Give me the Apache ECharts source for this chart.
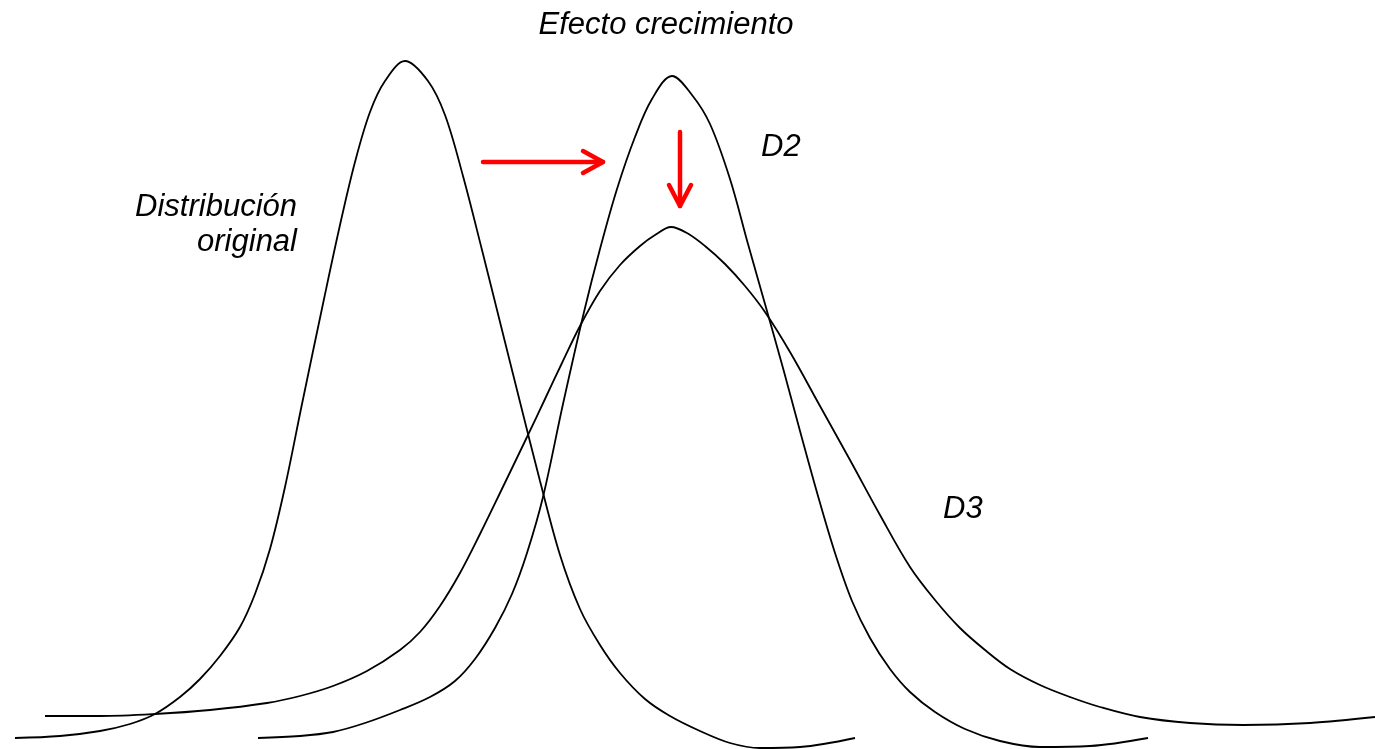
<!DOCTYPE html>
<html>
<head>
<meta charset="utf-8">
<style>
html,body{margin:0;padding:0;background:#fff;}
#chart{width:1375px;height:749px;}
</style>
<script src="https://cdn.jsdelivr.net/npm/echarts@6/dist/echarts.min.js"></script>
</head>
<body>
<div id="chart"></div>
<script>
// Distribución original (x = income position, y = density)
const origX = [15,60,100,130,155,180,200,220,240,255,270,285,302,324,340,355,370,385,405,428,445,463,482,500,520,540,560,580,600,620,645,670,700,730,760,800,855];
const origY = [11,13,18,25,35,52,70,93,122,155,200,262,345,450,524,587,637,668,688,668,634,573,499,427,347,268,194,140,104,76,50,33,18,6,1,2,11];
// D2 (efecto crecimiento)
const d2X = [258,300,333,365,400,430,455,475,495,512,527,543,563,584,600,617,635,652,672,692,710,730,748,765,783,800,818,835,852,870,890,910,935,965,1000,1040,1090,1148];
const d2Y = [11,13,17,26,39,52,68,90,121,155,196,252,345,437,500,560,612,650,673,654,625,570,505,445,381,318,253,196,148,111,80,57,37,20,8,2,3,11];
// D3 (mayor dispersión)
const d3X = [45,100,155,210,267,300,333,367,400,420,440,460,480,500,527,545,562,580,600,620,640,655,671,687,705,725,745,765,790,820,850,880,910,935,960,985,1010,1040,1070,1100,1140,1190,1243,1310,1375];
const d3Y = [33,33,35,39,46,53,63,78,99,117,143,176,215,256,312,350,386,423,458,484,503,514,522,516,503,485,463,437,397,343,289,234,182,149,121,99,80,64,52,42,32,26,24,26,32];
// Arrows (annotation paths in the same data space)
const arrowRightShaft = [[483,587],[603,587]];
const arrowRightHead  = [[583,598],[603,587],[583,576]];
const arrowDownShaft  = [[680,617],[680,543]];
const arrowDownHead   = [[669,564],[680,543],[691,564]];
// Labels
const labelTitle = 'Efecto crecimiento';
const labelOrig = ['Distribución', 'original'];
const labelD2 = 'D2';
const labelD3 = 'D3';

const zip = (xs, ys) => xs.map((x, i) => [x, ys[i]]);
const chart = echarts.init(document.getElementById('chart'), null, {renderer: 'canvas'});
const font = 'italic 31px "Liberation Sans", Arial, sans-serif';

function curve(name, data) {
  return {
    name, type: 'line', data, smooth: 0.35, symbol: 'none', silent: true,
    lineStyle: {color: '#000', width: 1.8}
  };
}
function arrow(data) {
  return {
    type: 'line', data, smooth: false, symbol: 'none', silent: true,
    lineStyle: {color: '#ff0000', width: 4.5, cap: 'round', join: 'round'}
  };
}

chart.setOption({
  animation: false,
  backgroundColor: '#ffffff',
  grid: {left: 0, right: 0, top: 0, bottom: 0},
  xAxis: {type: 'value', min: 0, max: 1375, show: false},
  yAxis: {type: 'value', min: 0, max: 749, show: false},
  series: [
    curve('Distribución original', zip(origX, origY)),
    curve('D2', zip(d2X, d2Y)),
    curve('D3', zip(d3X, d3Y)),
    arrow(arrowRightShaft), arrow(arrowRightHead),
    arrow(arrowDownShaft), arrow(arrowDownHead)
  ],
  graphic: [
    {type: 'text', x: 666, y: 25, style: {text: labelTitle, font, fill: '#000', align: 'center', verticalAlign: 'middle'}},
    {type: 'text', x: 297, y: 207, style: {text: labelOrig[0], font, fill: '#000', align: 'right', verticalAlign: 'middle'}},
    {type: 'text', x: 297, y: 242, style: {text: labelOrig[1], font, fill: '#000', align: 'right', verticalAlign: 'middle'}},
    {type: 'text', x: 761, y: 147, style: {text: labelD2, font, fill: '#000', align: 'left', verticalAlign: 'middle'}},
    {type: 'text', x: 943, y: 509, style: {text: labelD3, font, fill: '#000', align: 'left', verticalAlign: 'middle'}}
  ]
});
</script>
</body>
</html>
